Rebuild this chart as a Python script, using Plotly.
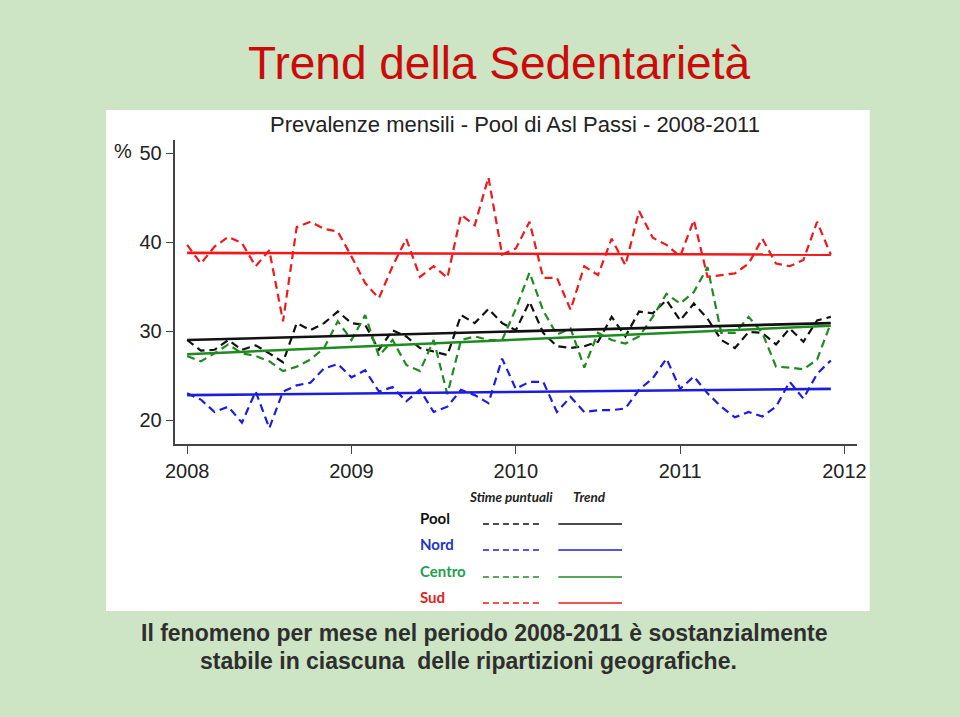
import plotly.graph_objects as go

W, H = 960, 717

# ---- data (monthly prevalence, %, Jan 2008 .. Dec 2011) ----
months = [2008 + i / 12 for i in range(48)]

pool = [29.0, 27.8, 27.9, 29.0, 27.9, 28.4, 27.5, 26.5, 30.9, 30.1, 30.9, 32.2,
        30.9, 30.7, 27.9, 30.1, 29.4, 28.1, 27.7, 27.3, 31.8, 30.9, 32.5, 30.9,
        30.1, 33.3, 29.8, 28.3, 28.1, 28.3, 28.8, 31.6, 29.4, 32.2, 32.0, 33.5,
        31.2, 33.1, 31.4, 29.0, 28.1, 29.9, 29.8, 28.5, 30.3, 28.8, 31.2, 31.6]
nord = [23.0, 22.3, 20.9, 21.5, 19.7, 23.2, 19.1, 23.2, 23.9, 24.2, 25.8, 26.3,
        24.8, 25.6, 23.2, 23.7, 22.1, 23.4, 20.9, 21.5, 23.4, 22.8, 21.9, 26.9,
        23.5, 24.3, 24.3, 20.9, 22.6, 20.9, 21.1, 21.1, 21.3, 23.4, 24.7, 26.9,
        23.5, 24.9, 23.0, 21.5, 20.3, 20.9, 20.4, 21.5, 24.3, 22.4, 25.2, 26.7]
centro = [27.2, 26.6, 27.5, 28.5, 27.5, 27.2, 26.6, 25.5, 26.0, 26.8, 28.1, 31.1,
          29.0, 31.8, 27.2, 29.0, 26.2, 25.5, 29.0, 22.9, 29.0, 29.4, 29.0, 29.0,
          32.5, 36.6, 32.3, 29.6, 30.3, 25.9, 29.8, 29.0, 28.6, 29.4, 31.6, 34.2,
          33.1, 34.4, 37.2, 29.8, 29.8, 31.6, 29.8, 26.0, 25.9, 25.7, 26.8, 30.9]
sud = [39.7, 37.6, 39.5, 40.6, 39.9, 37.3, 39.1, 31.1, 41.7, 42.3, 41.5, 41.2,
       38.4, 35.4, 33.7, 37.3, 40.4, 36.1, 37.3, 36.0, 43.1, 41.9, 47.3, 38.6,
       39.3, 42.3, 36.0, 36.0, 32.4, 37.3, 36.3, 40.4, 37.4, 43.5, 40.5, 39.7,
       38.4, 42.5, 36.1, 36.3, 36.5, 37.6, 40.4, 37.6, 37.3, 38.0, 42.3, 38.6]

# linear trend endpoints (first and last month)
trend_x = [months[0], months[-1]]
trend_pool = [29.0, 30.9]
trend_nord = [22.8, 23.5]
trend_centro = [27.4, 30.6]
trend_sud = [38.8, 38.6]

names = ["Pool", "Nord", "Centro", "Sud"]
series = [pool, nord, centro, sud]
trends = [trend_pool, trend_nord, trend_centro, trend_sud]
colors = ["#111111", "#1c1ce0", "#1f8a1f", "#f01818"]
legend_text_colors = ["#111111", "#2233cc", "#22a050", "#e82020"]

yticks = [20, 30, 40, 50]
xticks = [2008, 2009, 2010, 2011, 2012]

fig = go.Figure()
for name, s, c in zip(names, series, colors):
    fig.add_trace(go.Scatter(x=months, y=s, mode="lines", name=name + " stime",
                             line=dict(color=c, width=2.2, dash="8px,5px"),
                             hoverinfo="skip"))
for name, t, c in zip(names, trends, colors):
    fig.add_trace(go.Scatter(x=trend_x, y=t, mode="lines", name=name + " trend",
                             line=dict(color=c, width=2.6), hoverinfo="skip"))


def px(x):
    return x / W


def py(y):
    return (H - y) / H


shapes = [
    # white chart panel
    dict(type="rect", xref="paper", yref="paper", x0=px(98), x1=px(878),
         y0=py(611), y1=py(110), fillcolor="white", line=dict(width=0),
         layer="below"),
]

annotations = [
    dict(text="Trend della Sedentarietà", x=px(499), y=py(63), xref="paper",
         yref="paper", showarrow=False, xanchor="center", yanchor="middle",
         font=dict(family="Arial, Liberation Sans", size=46, color="#cc0a0a")),
    dict(text="Prevalenze mensili - Pool di Asl Passi - 2008-2011", x=px(516),
         y=py(124), xref="paper", yref="paper", showarrow=False,
         xanchor="center", yanchor="middle",
         font=dict(family="Arial, Liberation Sans", size=22, color="#222222")),
    dict(text="%", x=px(115), y=py(151), xref="paper", yref="paper",
         showarrow=False, xanchor="center", yanchor="middle",
         font=dict(family="Arial, Liberation Sans", size=20, color="#222222")),
    dict(text="<b>Il fenomeno per mese nel periodo 2008-2011 è sostanzialmente</b>",
         x=px(484), y=py(633), xref="paper", yref="paper", showarrow=False,
         xanchor="center", yanchor="middle",
         font=dict(family="Liberation Sans, Arial", size=23, color="#2e2e2e")),
    dict(text="<b>stabile in ciascuna  delle ripartizioni geografiche.</b>",
         x=px(468), y=py(661), xref="paper", yref="paper", showarrow=False,
         xanchor="center", yanchor="middle",
         font=dict(family="Liberation Sans, Arial", size=23, color="#2e2e2e")),
    dict(text="<b><i>Stime puntuali</i></b>", x=px(512), y=py(497), xref="paper",
         yref="paper", showarrow=False, xanchor="center", yanchor="middle",
         font=dict(family="Lato, Open Sans", size=13.5, color="#222222")),
    dict(text="<b><i>Trend</i></b>", x=px(592), y=py(497), xref="paper",
         yref="paper", showarrow=False, xanchor="center", yanchor="middle",
         font=dict(family="Lato, Open Sans", size=13.5, color="#222222")),
]

row_y = [518, 544, 571, 597]
for name, c, tc, ry in zip(names, colors, legend_text_colors, row_y):
    annotations.append(dict(text="<b>" + name + "</b>", x=px(417), y=py(ry),
                            xref="paper", yref="paper", showarrow=False,
                            xanchor="left", yanchor="middle",
                            font=dict(family="Lato, Open Sans", size=15, color=tc)))
    shapes.append(dict(type="line", xref="paper", yref="paper", x0=px(483),
                       x1=px(541), y0=py(ry + 6), y1=py(ry + 6),
                       line=dict(color=c, width=1.6, dash="6px,4px")))
    shapes.append(dict(type="line", xref="paper", yref="paper", x0=px(560),
                       x1=px(625), y0=py(ry + 6), y1=py(ry + 6),
                       line=dict(color=c, width=1.6)))

axis_font = dict(family="Arial, Liberation Sans", size=20, color="#222222")
fig.update_layout(
    width=W, height=H,
    margin=dict(l=0, r=0, t=0, b=0),
    paper_bgcolor="#cde5c4",
    plot_bgcolor="white",
    showlegend=False,
    shapes=shapes,
    annotations=annotations,
    xaxis=dict(domain=[px(168), px(865)], range=[2007.923, 2012.076],
               tickvals=xticks, ticktext=[str(v) for v in xticks],
               ticks="outside", ticklen=8, tickwidth=1.3, tickcolor="#444444",
               showline=True, linecolor="#444444", linewidth=1.5,
               showgrid=False, zeroline=False, tickfont=axis_font,
               fixedrange=True),
    yaxis=dict(domain=[py(444), py(140)], range=[17.3, 51.5],
               tickvals=yticks, ticktext=[str(v) for v in yticks],
               ticks="outside", ticklen=7, tickwidth=1.3, tickcolor="#444444",
               showline=True, linecolor="#444444", linewidth=1.5,
               showgrid=False, zeroline=False, tickfont=axis_font,
               fixedrange=True),
)

fig.write_html("out.html")
